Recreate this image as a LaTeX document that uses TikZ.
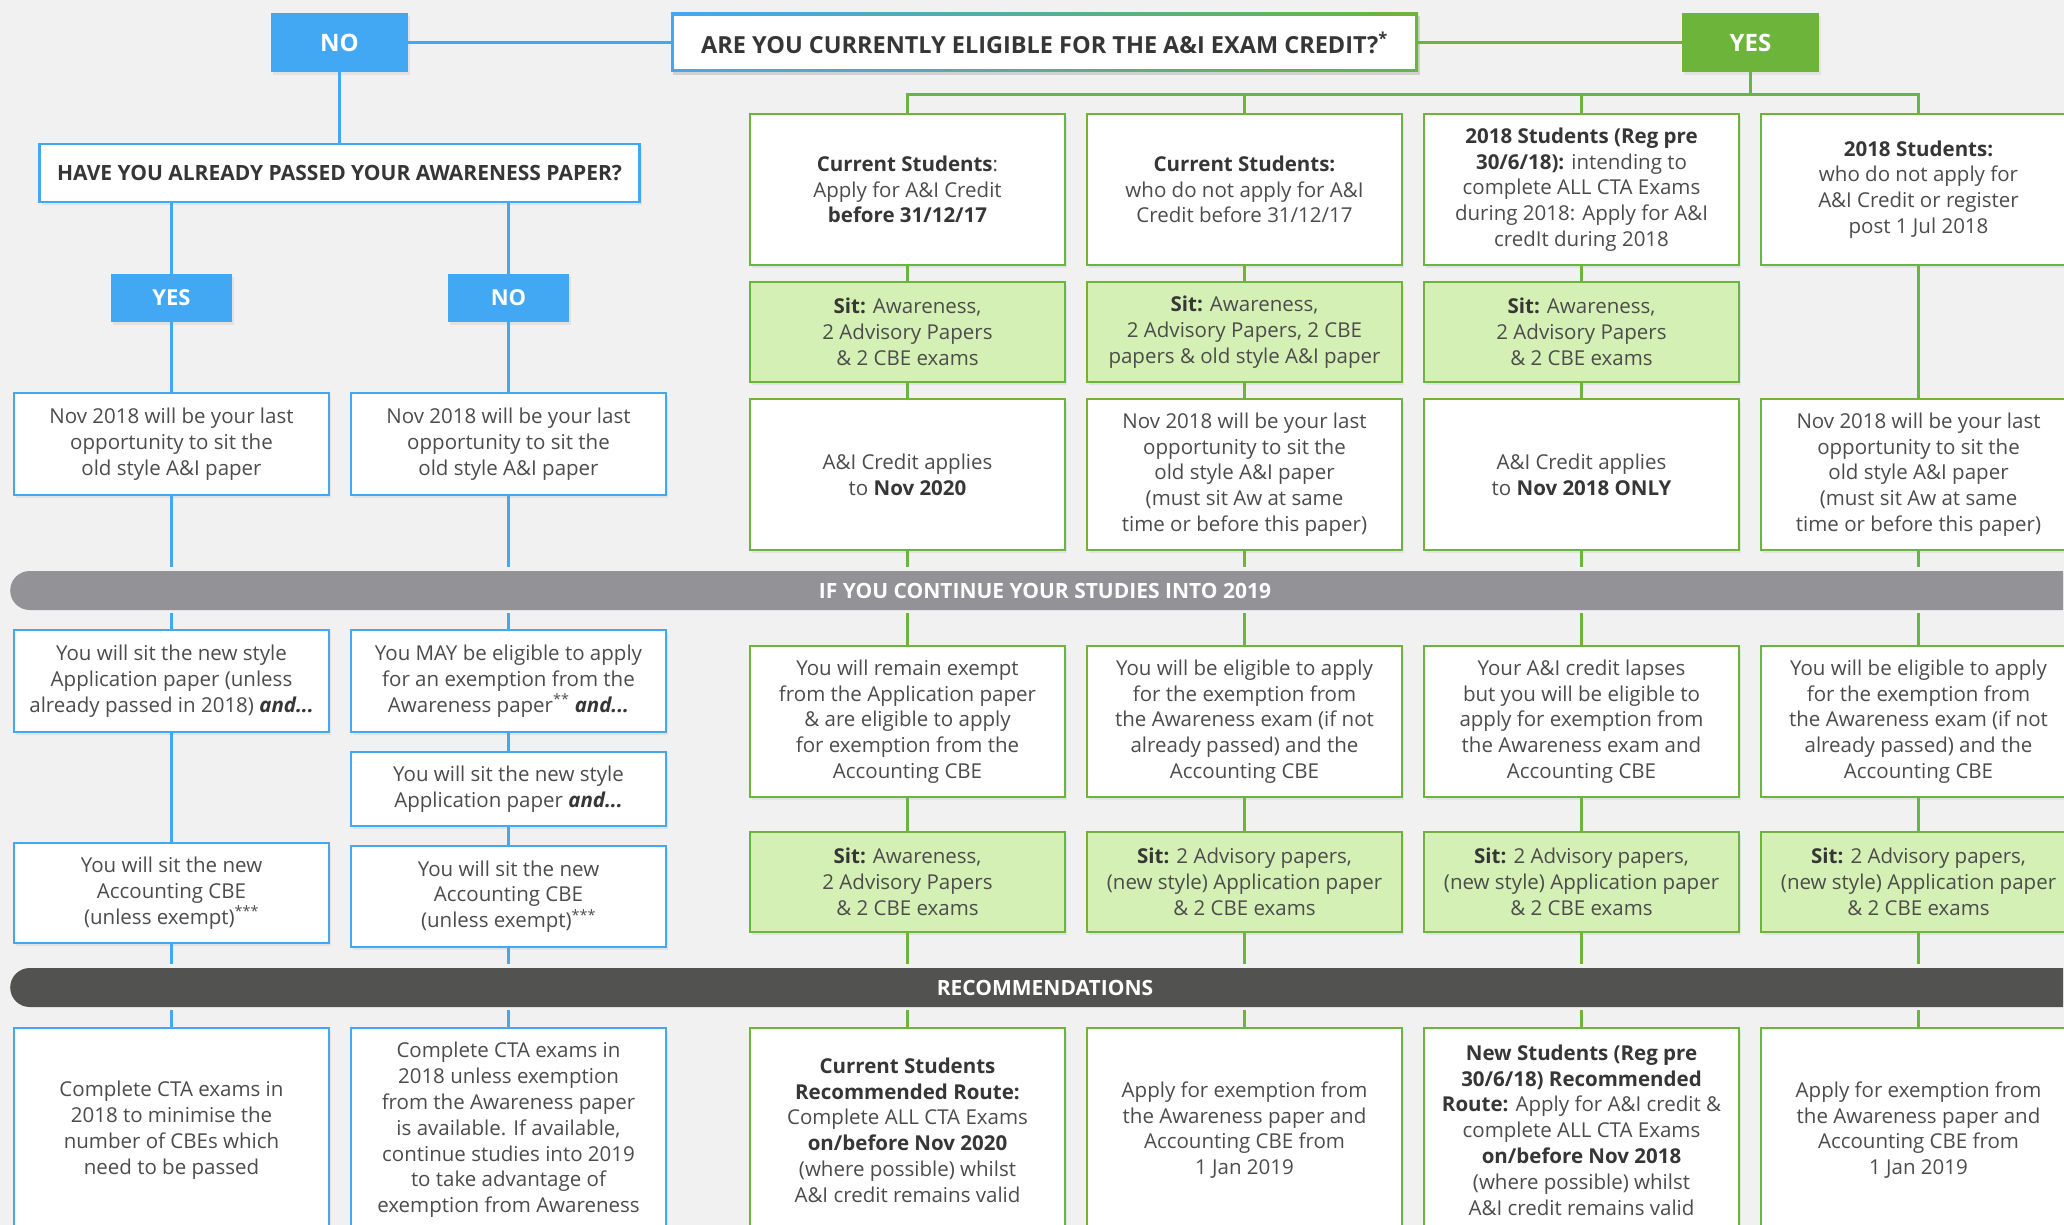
\documentclass[tikz,border=0pt]{standalone}
\usepackage{fontspec}
\setmainfont{Open Sans}
\usetikzlibrary{shadows,shapes.misc}
\definecolor{cblue}{HTML}{43A8F3}
\definecolor{cgreen}{HTML}{6CB43A}
\definecolor{lgreen}{HTML}{D5F0B5}
\definecolor{bargray}{HTML}{939297}
\definecolor{bardark}{HTML}{525250}
\definecolor{pagebg}{HTML}{F1F1F1}
\definecolor{txt}{HTML}{4C4C4C}
\definecolor{txtb}{HTML}{363636}
\newcommand{\hb}[1]{\textbf{\color{txtb}#1}}
\tikzset{
  shad/.style={drop shadow={shadow xshift=2pt,shadow yshift=-3pt,opacity=0.13}},
  body/.style={rectangle,align=center,inner sep=0pt,text=txt,font=\fontsize{20.5}{25.8}\selectfont,line width=2.5pt,shad},
  wh/.style 2 args={minimum width=#1,minimum height=#2},
  bluebox/.style={body,draw=cblue,fill=white},
  greenbox/.style={body,draw=cgreen,fill=white},
  sitbox/.style={body,draw=cgreen,fill=lgreen},
  tagblue/.style={rectangle,fill=cblue,text=white,font=\fontsize{24}{27}\selectfont\bfseries,inner sep=0pt,shad},
  taggreen/.style={tagblue,fill=cgreen},
  bandbox/.style={rounded rectangle,rounded rectangle right arc=none,text=white,font=\fontsize{21}{24}\selectfont\bfseries,inner sep=0pt,minimum height=39pt,minimum width=2053pt},
  bline/.style={draw=cblue,line width=3pt},
  gline/.style={draw=cgreen,line width=3pt},
  tobar/.style={shorten >=4pt},
  frombar/.style={shorten <=3pt},
  headfont/.style={font=\fontsize{21}{25}\selectfont\bfseries},
}
\begin{document}
\begin{tikzpicture}[x=1pt,y=-1pt]
\useasboundingbox (0,0) rectangle (2064,1225);
\clip (0,0) rectangle (2064,1225);
\fill[pagebg] (0,0) rectangle (2064,1225);

% ---------- top row ----------
\node[tagblue,wh={137pt}{59pt}] (no0) at (339.5,42.5) {NO};
\fill[black,opacity=0.13] (673,16) rectangle (1420,75);
\shade[left color=cblue,right color=cgreen] (671,13) rectangle (1418,72);
\node[fill=white,inner sep=0pt,text=txtb,font=\fontsize{23.5}{27}\selectfont\bfseries,wh={741pt}{53pt}] (q0) at (1044.5,42.5)
  {ARE YOU CURRENTLY ELIGIBLE FOR THE A\&I EXAM CREDIT?\textsuperscript{*}};
\node[taggreen,wh={137pt}{59pt}] (yes0) at (1750.5,42.5) {YES};

% ---------- left (blue) branch ----------
\node[bluebox,headfont,text=txtb,wh={600pt}{58pt}] (hq) at (339.5,173) {HAVE YOU ALREADY PASSED YOUR AWARENESS PAPER?};
\node[tagblue,wh={121pt}{48pt},font=\fontsize{22}{25}\selectfont\bfseries] (yes1) at (171.5,298) {YES};
\node[tagblue,wh={121pt}{48pt},font=\fontsize{22}{25}\selectfont\bfseries] (no1) at (508.5,298) {NO};
\node[bluebox,wh={315pt}{102pt}] (nov1) at (171.5,444) {Nov 2018 will be your last\\opportunity to sit the\\old style A\&I paper};
\node[bluebox,wh={315pt}{102pt}] (nov2) at (508.5,444) {Nov 2018 will be your last\\opportunity to sit the\\old style A\&I paper};

\node[bandbox,fill=bargray] (bar1) at (1037.5,590.5) {\hspace*{15pt}IF YOU CONTINUE YOUR STUDIES INTO 2019};

\node[bluebox,wh={315pt}{102pt}] (g1) at (171.5,681) {You will sit the new style\\Application paper (unless\\already passed in 2018) \hb{\textit{and...}}};
\node[bluebox,wh={315pt}{102pt}] (g2) at (508.5,681) {You MAY be eligible to apply\\for an exemption from the\\Awareness paper\textsuperscript{**} \hb{\textit{and...}}};
\node[bluebox,wh={315pt}{74pt}] (h2) at (508.5,789) {You will sit the new style\\Application paper \hb{\textit{and...}}};
\node[bluebox,wh={315pt}{100pt}] (i1) at (171.5,893) {You will sit the new\\Accounting CBE\\(unless exempt)\textsuperscript{***}};
\node[bluebox,wh={315pt}{101pt}] (i2) at (508.5,896.5) {You will sit the new\\Accounting CBE\\(unless exempt)\textsuperscript{***}};

\node[bandbox,fill=bardark] (bar2) at (1037.5,987.5) {\hspace*{15pt}RECOMMENDATIONS};

\node[bluebox,wh={315pt}{204pt}] (j1) at (171.5,1130) {Complete CTA exams in\\2018 to minimise the\\number of CBEs which\\need to be passed};
\node[bluebox,wh={315pt}{204pt}] (j2) at (508.5,1130) {Complete CTA exams in\\2018 unless exemption\\from the Awareness paper\\is available. If available,\\continue studies into 2019\\to take advantage of\\exemption from Awareness};

% ---------- right (green) branch ----------
\node[greenbox,wh={315pt}{151pt}] (a1) at (907.5,189.5) {\hb{Current Students}:\\Apply for A\&I Credit\\\hb{before 31/12/17}};
\node[greenbox,wh={315pt}{151pt}] (a2) at (1244.5,189.5) {\hb{Current Students:}\\who do not apply for A\&I\\Credit before 31/12/17};
\node[greenbox,wh={315pt}{151pt}] (a3) at (1581.5,189.5) {\hb{2018 Students (Reg pre}\\\hb{30/6/18):} intending to\\complete ALL CTA Exams\\during 2018: Apply for A\&I\\credIt during 2018};
\node[greenbox,wh={315pt}{151pt}] (a4) at (1918.5,189.5) {\hb{2018 Students:}\\who do not apply for\\A\&I Credit or register\\post 1 Jul 2018};

\node[sitbox,wh={315pt}{100pt}] (b1) at (907.5,332) {\hb{Sit:} Awareness,\\2 Advisory Papers\\\& 2 CBE exams};
\node[sitbox,wh={315pt}{100pt}] (b2) at (1244.5,332) {\hb{Sit:} Awareness,\\2 Advisory Papers, 2 CBE\\papers \& old style A\&I paper};
\node[sitbox,wh={315pt}{100pt}] (b3) at (1581.5,332) {\hb{Sit:} Awareness,\\2 Advisory Papers\\\& 2 CBE exams};

\node[greenbox,wh={315pt}{151pt}] (c1) at (907.5,474.5) {A\&I Credit applies\\to \hb{Nov 2020}};
\node[greenbox,wh={315pt}{151pt}] (c2) at (1244.5,474.5) {Nov 2018 will be your last\\opportunity to sit the\\old style A\&I paper\\(must sit Aw at same\\time or before this paper)};
\node[greenbox,wh={315pt}{151pt}] (c3) at (1581.5,474.5) {A\&I Credit applies\\to \hb{Nov 2018 ONLY}};
\node[greenbox,wh={315pt}{151pt}] (c4) at (1918.5,474.5) {Nov 2018 will be your last\\opportunity to sit the\\old style A\&I paper\\(must sit Aw at same\\time or before this paper)};

\node[greenbox,wh={315pt}{151pt}] (d1) at (907.5,721.5) {You will remain exempt\\from the Application paper\\\& are eligible to apply\\for exemption from the\\Accounting CBE};
\node[greenbox,wh={315pt}{151pt}] (d2) at (1244.5,721.5) {You will be eligible to apply\\for the exemption from\\the Awareness exam (if not\\already passed) and the\\Accounting CBE};
\node[greenbox,wh={315pt}{151pt}] (d3) at (1581.5,721.5) {Your A\&I credit lapses\\but you will be eligible to\\apply for exemption from\\the Awareness exam and\\Accounting CBE};
\node[greenbox,wh={315pt}{151pt}] (d4) at (1918.5,721.5) {You will be eligible to apply\\for the exemption from\\the Awareness exam (if not\\already passed) and the\\Accounting CBE};

\node[sitbox,wh={315pt}{100pt}] (e1) at (907.5,882) {\hb{Sit:} Awareness,\\2 Advisory Papers\\\& 2 CBE exams};
\node[sitbox,wh={315pt}{100pt}] (e2) at (1244.5,882) {\hb{Sit:} 2 Advisory papers,\\(new style) Application paper\\\& 2 CBE exams};
\node[sitbox,wh={315pt}{100pt}] (e3) at (1581.5,882) {\hb{Sit:} 2 Advisory papers,\\(new style) Application paper\\\& 2 CBE exams};
\node[sitbox,wh={315pt}{100pt}] (e4) at (1918.5,882) {\hb{Sit:} 2 Advisory papers,\\(new style) Application paper\\\& 2 CBE exams};

\node[greenbox,wh={315pt}{204pt}] (f1) at (907.5,1130) {\hb{Current Students}\\\hb{Recommended Route:}\\Complete ALL CTA Exams\\\hb{on/before Nov 2020}\\(where possible) whilst\\A\&I credit remains valid};
\node[greenbox,wh={315pt}{204pt}] (f2) at (1244.5,1130) {Apply for exemption from\\the Awareness paper and\\Accounting CBE from\\1 Jan 2019};
\node[greenbox,wh={315pt}{204pt}] (f3) at (1581.5,1130) {\hb{New Students (Reg pre}\\\hb{30/6/18) Recommended}\\\hb{Route:} Apply for A\&I credit \&\\complete ALL CTA Exams\\\hb{on/before Nov 2018}\\(where possible) whilst\\A\&I credit remains valid};
\node[greenbox,wh={315pt}{204pt}] (f4) at (1918.5,1130) {Apply for exemption from\\the Awareness paper and\\Accounting CBE from\\1 Jan 2019};

% ---------- connectors ----------
\coordinate (hub) at (1750.5,95);
\draw[bline] (no0.east) -- (q0.west);
\draw[gline] (q0.east) -- (yes0.west);
\draw[bline] (no0.south) -- (hq.north);
\draw[bline] (hq.south -| yes1.north) -- (yes1.north);
\draw[bline] (hq.south -| no1.north) -- (no1.north);
\draw[bline] (yes1.south) -- (nov1.north);
\draw[bline] (no1.south) -- (nov2.north);
\draw[bline,tobar] (nov1.south) -- (nov1.south |- bar1.north);
\draw[bline,tobar] (nov2.south) -- (nov2.south |- bar1.north);
\draw[bline,frombar] (g1.north |- bar1.south) -- (g1.north);
\draw[bline,frombar] (g2.north |- bar1.south) -- (g2.north);
\draw[bline] (g1.south) -- (i1.north);
\draw[bline] (g2.south) -- (h2.north);
\draw[bline] (h2.south) -- (i2.north);
\draw[bline,tobar] (i1.south) -- (i1.south |- bar2.north);
\draw[bline,tobar] (i2.south) -- (i2.south |- bar2.north);
\draw[bline,frombar] (j1.north |- bar2.south) -- (j1.north);
\draw[bline,frombar] (j2.north |- bar2.south) -- (j2.north);

\draw[gline] (yes0.south) -- (hub);
\draw[gline] (a1.north) |- (hub);
\draw[gline] (a4.north) |- (hub);
\draw[gline] (a2.north) -- (a2.north |- hub);
\draw[gline] (a3.north) -- (a3.north |- hub);
\foreach \k in {1,2,3}{
  \draw[gline] (a\k.south) -- (b\k.north);
  \draw[gline] (b\k.south) -- (c\k.north);
}
\draw[gline] (a4.south) -- (c4.north);
\foreach \k in {1,2,3,4}{
  \draw[gline,tobar] (c\k.south) -- (c\k.south |- bar1.north);
  \draw[gline,frombar] (d\k.north |- bar1.south) -- (d\k.north);
  \draw[gline] (d\k.south) -- (e\k.north);
  \draw[gline,tobar] (e\k.south) -- (e\k.south |- bar2.north);
  \draw[gline,frombar] (f\k.north |- bar2.south) -- (f\k.north);
}
\end{tikzpicture}
\end{document}
